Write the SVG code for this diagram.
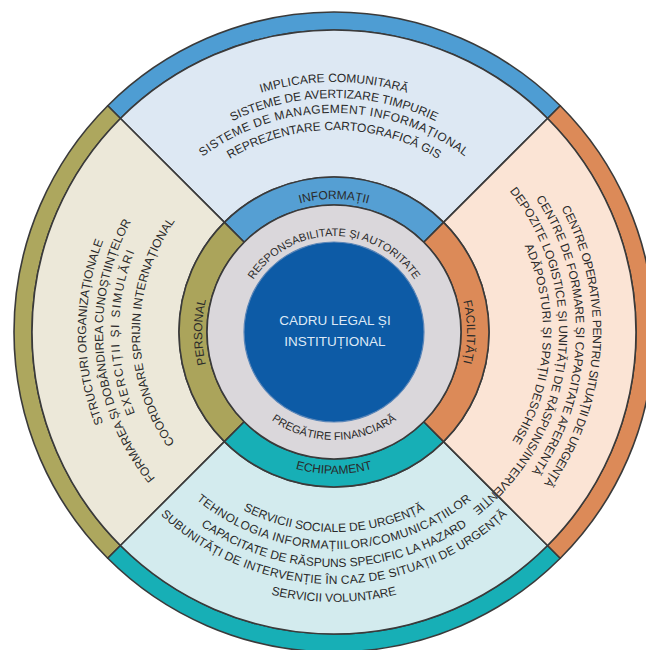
<svg xmlns="http://www.w3.org/2000/svg" xmlns:xlink="http://www.w3.org/1999/xlink" width="646" height="650" viewBox="0 0 646 650">
<style>
.sh{stroke:#3a3a3a;stroke-width:1.6;stroke-linejoin:round}
.t{font-family:"Liberation Sans",Arial,sans-serif;font-size:12px;fill:#2a2a2a}
.ts{font-size:11px}
.c{font-family:"Liberation Sans",Arial,sans-serif;font-size:13.5px;fill:#dde9f6;text-anchor:middle}
</style>
<defs>
<path id="t1" d="M84,332 A250,250 0 0 1 584,332"/>
<path id="t2" d="M100,332 A234,234 0 0 1 568,332"/>
<path id="t3" d="M115,332 A219,219 0 0 1 553,332"/>
<path id="t4" d="M132,332 A202,202 0 0 1 536,332"/>
<path id="tb" d="M201,332 A133,133 0 0 1 467,332"/>
<path id="tg" d="M238,332 A96,96 0 0 1 430,332"/>
<path id="l1" d="M334,580 A248,248 0 0 1 334,84"/>
<path id="l2" d="M334,563 A231,231 0 0 1 334,101"/>
<path id="l3" d="M334,547 A215,215 0 0 1 334,117"/>
<path id="l4" d="M334,526 A194,194 0 0 1 334,138"/>
<path id="lb" d="M334,464 A132,132 0 0 1 334,200"/>
<path id="r1" d="M334,73 A259,259 0 0 1 334,591"/>
<path id="r2" d="M334,90 A242,242 0 0 1 334,574"/>
<path id="r3" d="M334,107 A225,225 0 0 1 334,557"/>
<path id="r4" d="M334,123 A209,209 0 0 1 334,541"/>
<path id="rb" d="M334,199 A133,133 0 0 1 334,465"/>
<path id="b1" d="M134,332 A200,200 0 0 0 534,332"/>
<path id="b2" d="M117,332 A217,217 0 0 0 551,332"/>
<path id="b3" d="M99,332 A235,235 0 0 0 569,332"/>
<path id="b4" d="M82,332 A252,252 0 0 0 586,332"/>
<path id="b5" d="M64,332 A270,270 0 0 0 604,332"/>
<path id="bb" d="M192,332 A142,142 0 0 0 476,332"/>
<path id="bg" d="M226,332 A108,108 0 0 0 442,332"/>
</defs>

<g id="informatii">
<path class="sh" fill="#4e9dd3" d="M107.73,105.73 A320,320 0 0 1 560.27,105.73 L547.55,118.45 A302,302 0 0 0 120.45,118.45 Z"/>
<path class="sh" fill="#dde8f3" d="M120.45,118.45 A302,302 0 0 1 547.55,118.45 L443.6,222.4 A155,155 0 0 0 224.4,222.4 Z"/>
<path class="sh" fill="#559fd3" d="M224.4,222.4 A155,155 0 0 1 443.6,222.4 L423.8,242.2 A127,127 0 0 0 244.2,242.2 Z"/>
<text class="t"><textPath href="#tb" startOffset="50%" text-anchor="middle">INFORMAȚII</textPath></text>
<text class="t"><textPath href="#t1" startOffset="50%" text-anchor="middle">IMPLICARE COMUNITARĂ</textPath></text>
<text class="t"><textPath href="#t2" startOffset="50%" text-anchor="middle">SISTEME DE AVERTIZARE TIMPURIE</textPath></text>
<text class="t" letter-spacing="0.5"><textPath href="#t3" startOffset="50%" text-anchor="middle">SISTEME DE MANAGEMENT INFORMAȚIONAL</textPath></text>
<text class="t"><textPath href="#t4" startOffset="50%" text-anchor="middle">REPREZENTARE CARTOGRAFICĂ GIS</textPath></text>
</g>

<g id="personal">
<path class="sh" fill="#ada75e" d="M107.73,558.27 A320,320 0 0 1 107.73,105.73 L120.45,118.45 A302,302 0 0 0 120.45,545.55 Z"/>
<path class="sh" fill="#ece8d9" d="M120.45,545.55 A302,302 0 0 1 120.45,118.45 L224.4,222.4 A155,155 0 0 0 224.4,441.6 Z"/>
<path class="sh" fill="#aba45b" d="M224.4,441.6 A155,155 0 0 1 224.4,222.4 L244.2,242.2 A127,127 0 0 0 244.2,421.8 Z"/>
<text class="t"><textPath href="#lb" startOffset="50%" text-anchor="middle">PERSONAL</textPath></text>
<text class="t"><textPath href="#l1" startOffset="50%" text-anchor="middle">STRUCTURI ORGANIZAȚIONALE</textPath></text>
<text class="t"><textPath href="#l2" startOffset="47%" text-anchor="middle">FORMAREA ȘI DOBÂNDIREA CUNOȘTIINȚELOR</textPath></text>
<text class="t" letter-spacing="1.6"><textPath href="#l3" startOffset="50%" text-anchor="middle">EXERCIȚII ȘI SIMULĂRI</textPath></text>
<text class="t"><textPath href="#l4" startOffset="50%" text-anchor="middle">COORDONARE SPRIJIN INTERNAȚIONAL</textPath></text>
</g>

<g id="echipament">
<path class="sh" fill="#17afb6" d="M560.27,558.27 A320,320 0 0 1 107.73,558.27 L120.45,545.55 A302,302 0 0 0 547.55,545.55 Z"/>
<path class="sh" fill="#d3ebee" d="M547.55,545.55 A302,302 0 0 1 120.45,545.55 L224.4,441.6 A155,155 0 0 0 443.6,441.6 Z"/>
<path class="sh" fill="#17afb6" d="M443.6,441.6 A155,155 0 0 1 224.4,441.6 L244.2,421.8 A127,127 0 0 0 423.8,421.8 Z"/>
<text class="t"><textPath href="#bb" startOffset="50%" text-anchor="middle">ECHIPAMENT</textPath></text>
<text class="t"><textPath href="#b1" startOffset="50%" text-anchor="middle">SERVICII SOCIALE DE URGENȚĂ</textPath></text>
<text class="t" letter-spacing="0.4"><textPath href="#b2" startOffset="50%" text-anchor="middle">TEHNOLOGIA INFORMAȚIILOR/COMUNICAȚIILOR</textPath></text>
<text class="t"><textPath href="#b3" startOffset="50%" text-anchor="middle">CAPACITATE DE RĂSPUNS SPECIFIC LA HAZARD</textPath></text>
<text class="t" letter-spacing="0.2"><textPath href="#b4" startOffset="50%" text-anchor="middle">SUBUNITĂȚI DE INTERVENȚIE ÎN CAZ DE SITUAȚII DE URGENȚĂ</textPath></text>
<text class="t"><textPath href="#b5" startOffset="50%" text-anchor="middle">SERVICII VOLUNTARE</textPath></text>
</g>

<g id="facilitati">
<path class="sh" fill="#dc8a58" d="M560.27,105.73 A320,320 0 0 1 560.27,558.27 L547.55,545.55 A302,302 0 0 0 547.55,118.45 Z"/>
<path class="sh" fill="#fbe4d5" d="M547.55,118.45 A302,302 0 0 1 547.55,545.55 L443.6,441.6 A155,155 0 0 0 443.6,222.4 Z"/>
<path class="sh" fill="#dc8a58" d="M443.6,222.4 A155,155 0 0 1 443.6,441.6 L423.8,421.8 A127,127 0 0 0 423.8,242.2 Z"/>
<text class="t"><textPath href="#rb" startOffset="50%" text-anchor="middle">FACILITĂȚI</textPath></text>
<text class="t" letter-spacing="-0.4"><textPath href="#r1" startOffset="52%" text-anchor="middle">CENTRE OPERATIVE PENTRU SITUAȚII DE URGENȚĂ</textPath></text>
<text class="t"><textPath href="#r2" startOffset="50.5%" text-anchor="middle">CENTRE DE FORMARE ȘI CAPACITATE AFERENTĂ</textPath></text>
<text class="t"><textPath href="#r3" startOffset="201">DEPOZITE LOGISTICE ȘI UNITĂȚI DE RĂSPUNS/INTERVENȚIE</textPath></text>
<text class="t" letter-spacing="0.2"><textPath href="#r4" startOffset="52%" text-anchor="middle">ADĂPOSTURI ȘI SPAȚII DESCHISE</textPath></text>
</g>

<g id="responsabilitate">
<circle class="sh" cx="334" cy="332" r="127" fill="#dad7db"/>
<text class="t ts"><textPath href="#tg" startOffset="50%" text-anchor="middle">RESPONSABILITATE ȘI AUTORITATE</textPath></text>
<text class="t ts"><textPath href="#bg" startOffset="50%" text-anchor="middle">PREGĂTIRE FINANCIARĂ</textPath></text>
</g>

<g id="cadru">
<circle cx="334" cy="332" r="90" fill="#0d5ba6" stroke="#5b86b8" stroke-width="1.2"/>
<text class="c" x="335" y="325">CADRU LEGAL ȘI</text>
<text class="c" x="335" y="346">INSTITUȚIONAL</text>
</g>
</svg>
